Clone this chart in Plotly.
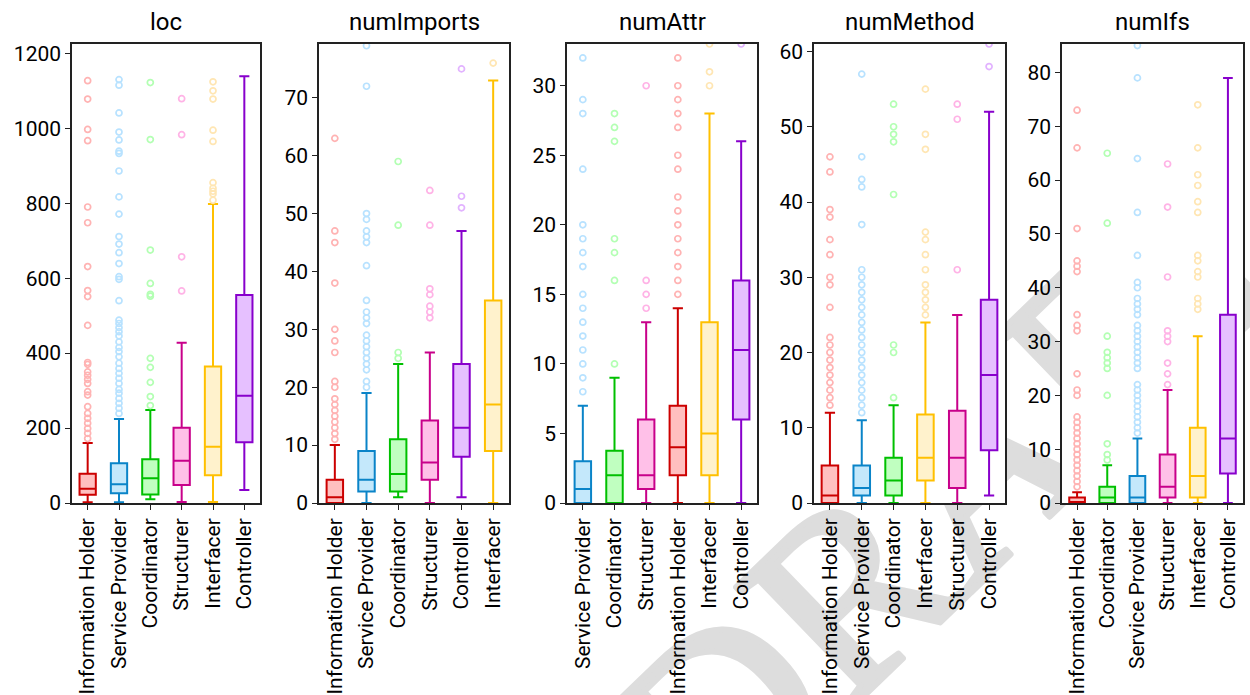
import base64
import plotly.graph_objects as go

W, H = 1250, 695

# ---------------- data ----------------
# loc
loc_order = ["Information Holder", "Service Provider", "Coordinator", "Structurer", "Interfacer", "Controller"]
loc_lower = [2, 2, 10, 3, 3, 35]
loc_q1 = [22, 26, 23, 48, 74, 162]
loc_median = [38, 50, 66, 113, 150, 286]
loc_q3 = [78, 106, 117, 201, 364, 555]
loc_upper = [160, 224, 248, 428, 798, 1139]
loc_outliers = {
    "Information Holder": [1127, 1078, 997, 967, 790, 748, 631, 567, 551, 474, 375, 370, 350, 341, 330, 319,
                           297, 288, 257, 239, 226, 213, 199, 186, 172],
    "Service Provider": [1130, 1115, 1041, 990, 969, 939, 933, 886, 817, 771, 711, 691, 668, 639, 604, 597,
                         540, 488, 479, 468, 457, 446, 430, 415, 404, 390, 373, 359, 346, 333, 319, 303,
                         293, 279, 266, 253, 239],
    "Coordinator": [1122, 970, 675, 586, 557, 552, 386, 362, 322, 284, 260],
    "Structurer": [1079, 983, 657, 566],
    "Interfacer": [1124, 1100, 1078, 995, 965, 855, 840, 832, 825, 808],
    "Controller": [],
}

# numImports
imp_order = ["Information Holder", "Service Provider", "Coordinator", "Structurer", "Controller", "Interfacer"]
imp_lower = [0, 0, 1, 0, 1, 0]
imp_q1 = [0, 2, 2, 4, 8, 9]
imp_median = [1, 4, 5, 7, 13, 17]
imp_q3 = [4, 9, 11, 14.25, 24, 35]
imp_upper = [10, 19, 24, 26, 47, 73]
imp_outliers = {
    "Information Holder": [63, 47, 45, 38, 30, 28, 26, 21, 20, 18, 17, 16, 15, 14, 13, 12, 11],
    "Service Provider": [79, 72, 50, 49, 47, 46, 45, 41, 35, 33, 32, 31, 29, 28, 27, 26, 25, 24, 23, 21, 20],
    "Coordinator": [59, 48, 26, 25],
    "Structurer": [54, 48, 37, 36, 34, 33, 32],
    "Controller": [75, 53, 51],
    "Interfacer": [76],
}

# numAttr
attr_order = ["Service Provider", "Coordinator", "Structurer", "Information Holder", "Interfacer", "Controller"]
attr_lower = [0, 0, 0, 0, 0, 0]
attr_q1 = [0, 0, 1, 2, 2, 6]
attr_median = [1, 2, 2, 4, 5, 11]
attr_q3 = [3, 3.75, 6, 7, 13, 16]
attr_upper = [7, 9, 13, 14, 28, 26]
attr_outliers = {
    "Service Provider": [32, 29, 28, 24, 20, 19, 18, 17, 15, 14, 13, 12, 11, 10, 9, 8],
    "Coordinator": [28, 27, 26, 19, 18, 16, 10],
    "Structurer": [30, 16, 15, 14],
    "Information Holder": [32, 30, 29, 28, 27, 25, 24, 22, 21, 20, 19, 18, 17, 16, 15],
    "Interfacer": [33, 31, 30],
    "Controller": [33],
}

# numMethod
meth_order = ["Information Holder", "Service Provider", "Coordinator", "Interfacer", "Structurer", "Controller"]
meth_lower = [0, 0, 0, 0, 0, 1]
meth_q1 = [0, 1, 1, 3, 2, 7]
meth_median = [1, 2, 3, 6, 6, 17]
meth_q3 = [5, 5, 6, 11.75, 12.25, 27]
meth_upper = [12, 11, 13, 24, 25, 52]
meth_outliers = {
    "Information Holder": [46, 44, 39, 38, 35, 33, 30, 29, 26, 22, 21, 20, 19, 18, 17, 16, 15, 14, 13],
    "Service Provider": [57, 46, 43, 42, 37, 31, 30, 29, 28, 27, 26, 25, 24, 23, 22, 21, 20, 19, 18, 17,
                         16, 15, 14, 13, 12],
    "Coordinator": [53, 50, 49, 48, 41, 21, 20, 14],
    "Interfacer": [55, 49, 47, 36, 35, 33, 31, 29, 28, 27, 26, 25],
    "Structurer": [53, 51, 31],
    "Controller": [61, 58],
}

# numIfs
ifs_order = ["Information Holder", "Coordinator", "Service Provider", "Structurer", "Interfacer", "Controller"]
ifs_lower = [0, 0, 0, 0, 0, 0]
ifs_q1 = [0, 0, 0, 1, 1, 5.5]
ifs_median = [0, 1, 1, 3, 5, 12]
ifs_q3 = [1, 3, 5, 9, 14, 35]
ifs_upper = [2, 7, 12, 21, 31, 79]
ifs_outliers = {
    "Information Holder": [73, 66, 51, 45, 44, 43, 35, 33, 32, 24, 21, 20, 16, 15, 14, 13, 12, 11, 10, 9, 8,
                           7, 6, 5, 4, 3],
    "Coordinator": [65, 52, 31, 28, 27, 26, 25, 20, 11, 9, 8],
    "Service Provider": [85, 79, 64, 54, 46, 41, 40, 38, 37, 36, 35, 33, 32, 31, 30, 29, 28, 27, 26, 25,
                         22, 21, 20, 19, 18, 17, 16, 15, 14, 13],
    "Structurer": [63, 55, 42, 32, 31, 30, 26, 24, 22],
    "Interfacer": [74, 66, 61, 59, 56, 54, 46, 45, 43, 42, 38, 37, 36],
    "Controller": [],
}

METRICS = [
    ("loc", loc_order, loc_lower, loc_q1, loc_median, loc_q3, loc_upper, loc_outliers, [0, 1225], 200),
    ("numImports", imp_order, imp_lower, imp_q1, imp_median, imp_q3, imp_upper, imp_outliers, [0, 79.3], 10),
    ("numAttr", attr_order, attr_lower, attr_q1, attr_median, attr_q3, attr_upper, attr_outliers, [0, 33], 5),
    ("numMethod", meth_order, meth_lower, meth_q1, meth_median, meth_q3, meth_upper, meth_outliers, [0, 61], 10),
    ("numIfs", ifs_order, ifs_lower, ifs_q1, ifs_median, ifs_q3, ifs_upper, ifs_outliers, [0, 85.3], 10),
]

# ---------------- styling ----------------
LINE = {
    "Information Holder": "#cc0000",
    "Service Provider": "#0a84c8",
    "Coordinator": "#00c000",
    "Structurer": "#c8008a",
    "Interfacer": "#ffc000",
    "Controller": "#8800cc",
}
FILL = {
    "Information Holder": "#ffbfbf",
    "Service Provider": "#c4e8fb",
    "Coordinator": "#c0ffc0",
    "Structurer": "#ffc0e8",
    "Interfacer": "#fff2cc",
    "Controller": "#e6c0ff",
}
OUT = {
    "Information Holder": "#ffb3b3",
    "Service Provider": "#b8e2ff",
    "Coordinator": "#b3ffb3",
    "Structurer": "#ffb3e6",
    "Interfacer": "#ffe6b3",
    "Controller": "#e2b3ff",
}

X_PX = [(72, 260), (319, 509), (567, 757), (814, 1005), (1062, 1243)]
Y_PX = (44, 503)
FONT = "Roboto, Arial, sans-serif"
AX = "#222222"

fig = go.Figure()
y_dom = [(H - Y_PX[1]) / H, (H - Y_PX[0]) / H]

annotations = []
shapes = []
for i, (name, order, lo, q1, med, q3, up, outs, yr, dt) in enumerate(METRICS):
    n = "" if i == 0 else str(i + 1)
    xa, ya = "x" + n, "y" + n
    for j, role in enumerate(order):
        fig.add_trace(go.Box(
            x=[role], q1=[q1[j]], median=[med[j]], q3=[q3[j]],
            lowerfence=[lo[j]], upperfence=[up[j]],
            width=0.52, whiskerwidth=0.62,
            fillcolor=FILL[role], line=dict(color=LINE[role], width=2),
            xaxis=xa, yaxis=ya, showlegend=False, hoverinfo="skip",
        ))
        vals = outs.get(role, [])
        if vals:
            fig.add_trace(go.Scatter(
                x=[role] * len(vals), y=vals, mode="markers",
                marker=dict(symbol="circle-open", size=6, color=OUT[role], line=dict(width=1.7)),
                xaxis=xa, yaxis=ya, showlegend=False, hoverinfo="skip",
            ))
    x0, x1 = X_PX[i]
    fig.layout["xaxis" + n] = dict(
        domain=[x0 / W, x1 / W], anchor=ya, type="category", automargin=False,
        categoryorder="array", categoryarray=order, range=[-0.5, 5.5],
        tickangle=-90, ticks="outside", ticklen=5, tickwidth=1.3, tickcolor=AX,
        showline=True, linecolor=AX, linewidth=1.5, mirror=True,
        showgrid=False, zeroline=False,
        tickfont=dict(size=21, color="black", family=FONT),
    )
    fig.layout["yaxis" + n] = dict(
        domain=y_dom, anchor=xa, range=yr, dtick=dt, tick0=0, automargin=False,
        ticks="outside", ticklen=5, tickwidth=1.3, tickcolor=AX,
        showline=True, linecolor=AX, linewidth=1.5, mirror=True,
        showgrid=False, zeroline=False,
        tickfont=dict(size=21, color="black", family=FONT),
    )
    annotations.append(dict(
        text=name, x=(x0 + x1) / 2 / W, y=y_dom[1], xref="paper", yref="paper",
        xanchor="center", yanchor="bottom", yshift=6, showarrow=False,
        font=dict(size=24, color="black", family=FONT),
    ))
    shapes.append(dict(
        type="rect", xref=xa + " domain", yref=ya + " domain",
        x0=0, x1=1, y0=0, y1=1, layer="below",
        fillcolor="white", line=dict(width=0),
    ))

# background watermark (hidden behind the white plot areas)
svg = (
    f'<svg xmlns="http://www.w3.org/2000/svg" width="{W}" height="{H}" viewBox="0 0 {W} {H}">'
    '<text x="1015" y="550" text-anchor="middle" font-family="Liberation Serif, DejaVu Serif, serif" '
    'font-size="255" fill="#dddddd" stroke="#dddddd" stroke-width="6" stroke-linejoin="round" '
    'transform="rotate(-44 1015 550)">DRAFT</text></svg>'
)
src = "data:image/svg+xml;base64," + base64.b64encode(svg.encode()).decode()

fig.update_layout(
    template="none",
    width=W, height=H,
    margin=dict(l=0, r=0, t=0, b=0, pad=0, autoexpand=False),
    paper_bgcolor="white", plot_bgcolor="rgba(0,0,0,0)",
    boxmode="overlay",
    annotations=annotations, shapes=shapes,
    images=[dict(source=src, xref="paper", yref="paper", x=0, y=1, sizex=1, sizey=1,
                 xanchor="left", yanchor="top", sizing="stretch", layer="below")],
    font=dict(family=FONT, color="black"),
)

fig.write_html(
    "out.html",
    config={"displayModeBar": False},
    post_script="document.body.style.margin='0';document.body.style.overflow='hidden';",
)
